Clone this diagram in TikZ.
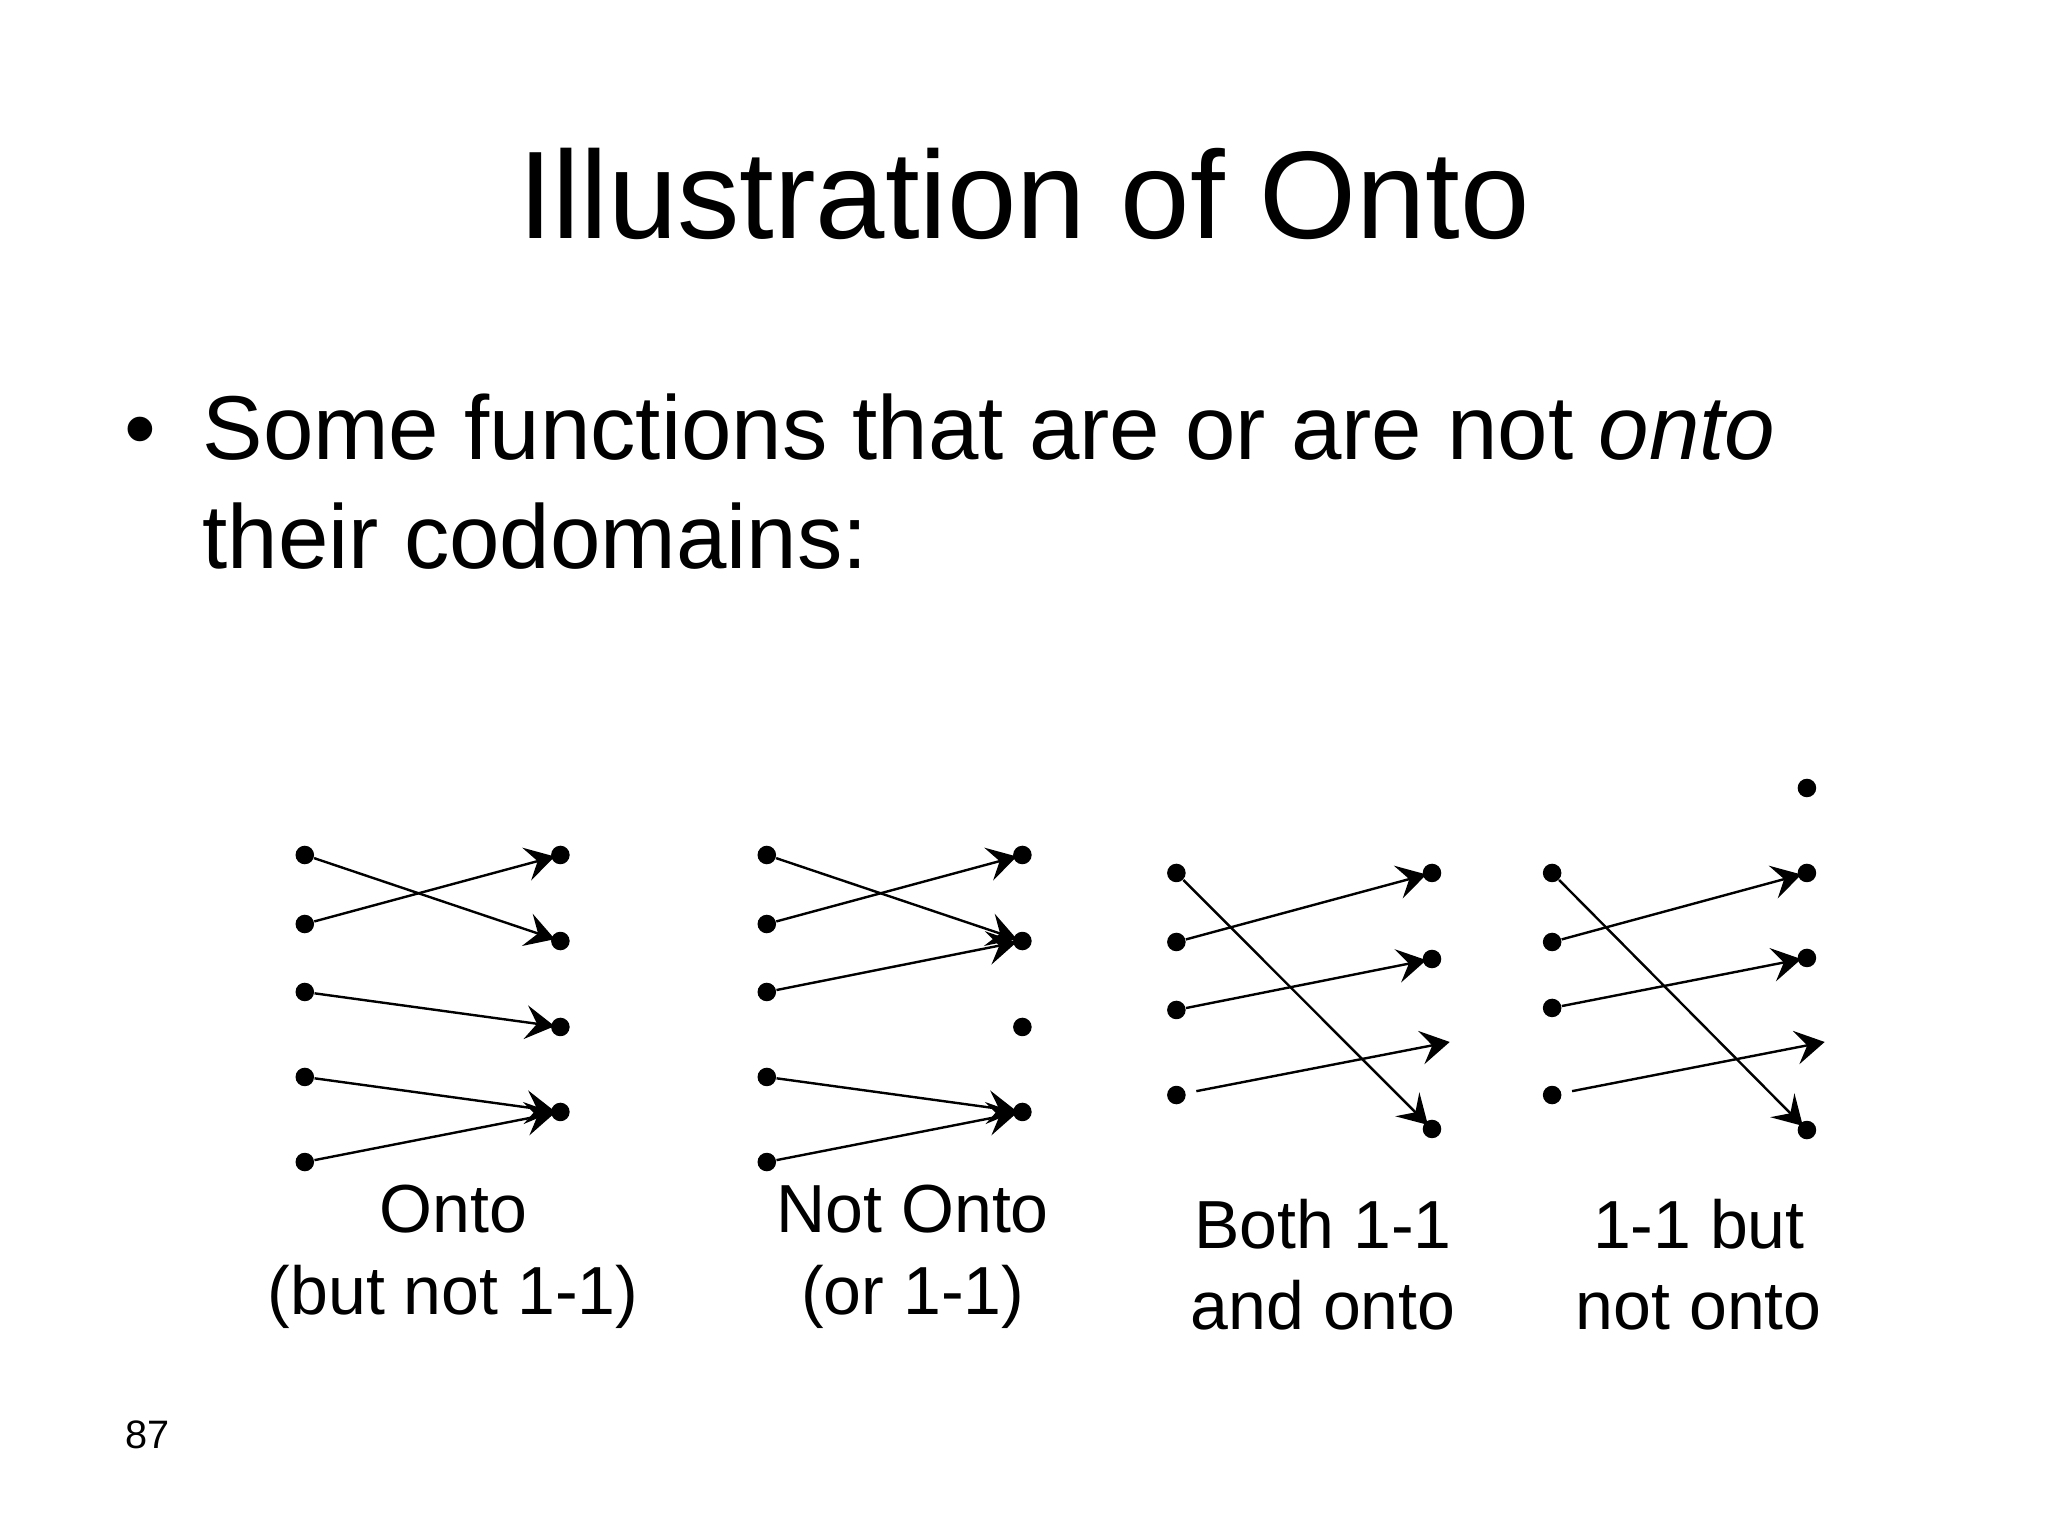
\documentclass[tikz,border=0pt]{standalone}
\usepackage{fontspec}
\setmainfont{Liberation Sans}
\usetikzlibrary{arrows.meta}

\begin{document}
\begin{tikzpicture}[
        blob/.style={circle, fill=black, inner sep=0pt, minimum size=0.23cm},
        maps/.style={-{Stealth[length=0.36cm, width=0.42cm, inset=0.14cm]}, line width=0.85pt, shorten >=-0.05cm},
        lbl/.style={align=center, anchor=base, font=\fontsize{24}{28.8}\selectfont}
    ]
            \fill[white] (0, 0) rectangle (25.4, 19.05);
            \node[anchor=base, font=\fontsize{44}{52}\selectfont] (title) at (12.7, 16.09) {Illustration of Onto};
            \node[anchor=base, font=\fontsize{32}{38.4}\selectfont] (bul) at (1.74, 13.345) {•};
            \node[anchor=base west, inner sep=0pt, font=\fontsize{32}{38.4}\selectfont] (line1) at (2.505, 13.345) {Some functions that are or are not \textit{onto}};
            \node[anchor=base west, inner sep=0pt, font=\fontsize{32}{38.4}\selectfont] (line2) at (2.505, 12.005) {their codomains:};
            % onto, not 1-1
            \node[blob] (a1) at (3.78, 8.446) {};
            \node[blob] (a2) at (3.78, 7.590) {};
            \node[blob] (a3) at (3.78, 6.747) {};
            \node[blob] (a4) at (3.78, 5.693) {};
            \node[blob] (a5) at (3.78, 4.638) {};
            \node[blob] (b1) at (6.95, 8.446) {};
            \node[blob] (b2) at (6.95, 7.379) {};
            \node[blob] (b3) at (6.95, 6.313) {};
            \node[blob] (b4) at (6.95, 5.259) {};
            \draw[maps] (a1) -- (b2);
            \draw[maps] (a2) -- (b1);
            \draw[maps] (a3) -- (b3);
            \draw[maps] (a4) -- (b4);
            \draw[maps] (a5) -- (b4);
            \node[lbl] (onto) at (5.62, 2.753) {Onto\\(but not 1-1)};
            % not onto
            \node[blob] (c1) at (9.51, 8.446) {};
            \node[blob] (c2) at (9.51, 7.590) {};
            \node[blob] (c3) at (9.51, 6.747) {};
            \node[blob] (c4) at (9.51, 5.693) {};
            \node[blob] (c5) at (9.51, 4.638) {};
            \node[blob] (d1) at (12.68, 8.446) {};
            \node[blob] (d2) at (12.68, 7.379) {};
            \node[blob] (d3) at (12.68, 6.313) {};
            \node[blob] (d4) at (12.68, 5.259) {};
            \draw[maps] (c1) -- (d2);
            \draw[maps] (c2) -- (d1);
            \draw[maps] (c3) -- (d2);
            \draw[maps] (c4) -- (d4);
            \draw[maps] (c5) -- (d4);
            \node[lbl] (notonto) at (11.32, 2.753) {Not Onto\\(or 1-1)};
            % both
            \node[blob] (e1) at (14.59, 8.223) {};
            \node[blob] (e2) at (14.59, 7.367) {};
            \node[blob] (e3) at (14.59, 6.524) {};
            \node[blob] (e4) at (14.59, 5.469) {};
            \node[blob] (f1) at (17.76, 8.223) {};
            \node[blob] (f2) at (17.76, 7.156) {};
            \coordinate (f3) at (17.98, 6.127);
            \node[blob] (f4) at (17.76, 5.048) {};
            \draw[maps] (e1) -- (f4);
            \draw[maps] (e2) -- (f1);
            \draw[maps] (e3) -- (f2);
            \draw[maps, shorten <=0.13cm, shorten >=0pt] (e4) -- (f3);
            \node[lbl] (both) at (16.41, 2.555) {Both 1-1\\and onto};
            % 1-1, not onto
            \node[blob] (g1) at (19.25, 8.223) {};
            \node[blob] (g2) at (19.25, 7.367) {};
            \node[blob] (g3) at (19.25, 6.549) {};
            \node[blob] (g4) at (19.25, 5.469) {};
            \node[blob] (h0) at (22.41, 9.277) {};
            \node[blob] (h1) at (22.41, 8.223) {};
            \node[blob] (h2) at (22.41, 7.169) {};
            \coordinate (h3) at (22.63, 6.127);
            \node[blob] (h4) at (22.41, 5.035) {};
            \draw[maps] (g1) -- (h4);
            \draw[maps] (g2) -- (h1);
            \draw[maps] (g3) -- (h2);
            \draw[maps, shorten <=0.13cm, shorten >=0pt] (g4) -- (h3);
            \node[lbl] (onebut) at (21.07, 2.555) {1-1 but\\not onto};
            \node[anchor=base west, inner sep=0pt, font=\fontsize{14}{16.8}\selectfont] (pageno) at (1.55, 1.091) {87};
        \end{tikzpicture}
\end{document}
